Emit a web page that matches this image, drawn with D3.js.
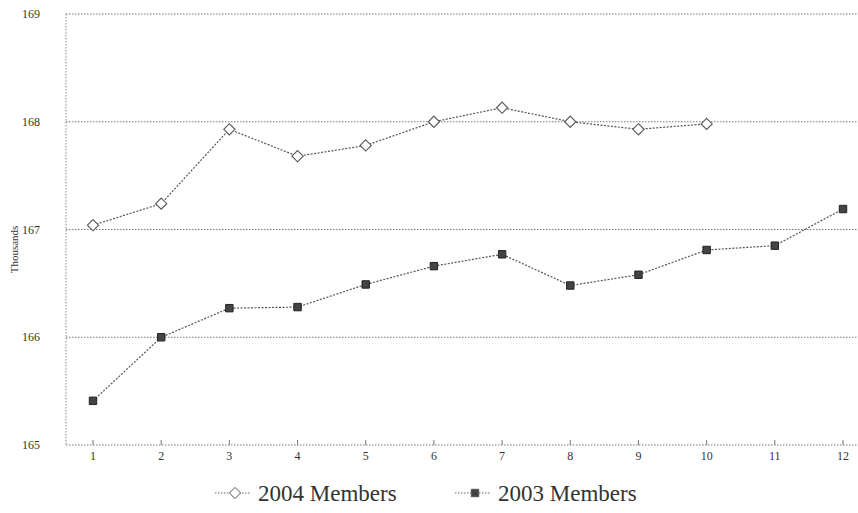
<!DOCTYPE html>
<html>
<head>
<meta charset="utf-8">
<script src="https://cdn.jsdelivr.net/npm/d3@7"></script>
<style>
  body { margin: 0; background: #fff; }
  text { font-family: "Liberation Serif", "DejaVu Serif", serif; fill: #333; }
</style>
</head>
<body>
<script>
// months along the x axis
const months = [1, 2, 3, 4, 5, 6, 7, 8, 9, 10, 11, 12];
// membership in thousands
const members2004 = [167.04, 167.24, 167.93, 167.68, 167.78, 168.0, 168.13, 168.0, 167.93, 167.98];
const members2003 = [165.41, 166.0, 166.27, 166.28, 166.49, 166.66, 166.77, 166.48, 166.58, 166.81, 166.85, 167.19];
const yTicks = [165, 166, 167, 168, 169];
const seriesNames = ['2004 Members', '2003 Members'];

const W = 858, H = 513;
const svg = d3.select('body').append('svg')
  .attr('width', W).attr('height', H);

const x = d3.scalePoint().domain(months).range([93, 843]);
const y = d3.scaleLinear().domain([165, 169]).range([445, 14]);
const left = 66, right = 858;

// horizontal gridlines
svg.append('g').selectAll('line')
  .data(yTicks)
  .enter().append('line')
    .attr('x1', left).attr('x2', right)
    .attr('y1', d => y(d)).attr('y2', d => y(d))
    .style('stroke', '#777')
    .style('stroke-width', 1)
    .style('stroke-dasharray', '1.5,1.5');

// left axis line
svg.append('line')
  .attr('x1', left).attr('x2', left)
  .attr('y1', y(169)).attr('y2', y(165))
  .style('stroke', '#888')
  .style('stroke-dasharray', '1.5,1.5');

// y labels
svg.append('g').selectAll('text')
  .data(yTicks)
  .enter().append('text')
    .attr('x', 40).attr('y', d => y(d) + 4)
    .attr('text-anchor', 'end')
    .style('font-size', '12px')
    .text(d => d);

svg.append('text')
  .attr('transform', `translate(18,${(y(165) + y(169)) / 2 + 20}) rotate(-90)`)
  .attr('text-anchor', 'middle')
  .style('font-size', '11px')
  .text('Thousands');

// x ticks + labels
const xg = svg.append('g');
xg.selectAll('line')
  .data(months)
  .enter().append('line')
    .attr('x1', d => x(d)).attr('x2', d => x(d))
    .attr('y1', y(165)).attr('y2', y(165) - 5)
    .style('stroke', '#777');
xg.selectAll('text')
  .data(months)
  .enter().append('text')
    .attr('x', d => x(d)).attr('y', 460)
    .attr('text-anchor', 'middle')
    .style('font-size', '12px')
    .text(d => d);

const line = d3.line()
  .x((d, i) => x(months[i]))
  .y(d => y(d));

// series lines
[members2004, members2003].forEach(s => {
  svg.append('path')
    .datum(s)
    .attr('d', line)
    .style('fill', 'none')
    .style('stroke', '#555')
    .style('stroke-width', 1.2)
    .style('stroke-dasharray', '2,1.5');
});

const diamond = d3.symbol().type(d3.symbolDiamond2).size(80);
const square = d3.symbol().type(d3.symbolSquare).size(55);

// 2004 hollow diamonds
svg.append('g').selectAll('path')
  .data(members2004)
  .enter().append('path')
    .attr('d', diamond)
    .attr('transform', (d, i) => `translate(${x(months[i])},${y(d)})`)
    .style('fill', '#fff')
    .style('stroke', '#555')
    .style('stroke-width', 1.1);

// 2003 filled squares
svg.append('g').selectAll('path')
  .data(members2003)
  .enter().append('path')
    .attr('d', square)
    .attr('transform', (d, i) => `translate(${x(months[i])},${y(d)})`)
    .style('fill', '#444')
    .style('stroke', '#222');

// legend
const legend = svg.append('g');
const legendItems = [
  {name: seriesNames[0], x0: 215, sym: diamond, fill: '#fff'},
  {name: seriesNames[1], x0: 455, sym: square, fill: '#444'}
];
legendItems.forEach(it => {
  legend.append('line')
    .attr('x1', it.x0).attr('x2', it.x0 + 36)
    .attr('y1', 493).attr('y2', 493)
    .style('stroke', '#666')
    .style('stroke-dasharray', '1.5,1.5');
  legend.append('path')
    .attr('d', it.sym)
    .attr('transform', `translate(${it.x0 + 20},493)`)
    .style('fill', it.fill)
    .style('stroke', '#555');
  legend.append('text')
    .attr('x', it.x0 + 43).attr('y', 501)
    .style('font-size', '23px')
    .text(it.name);
});
</script>
</body>
</html>
